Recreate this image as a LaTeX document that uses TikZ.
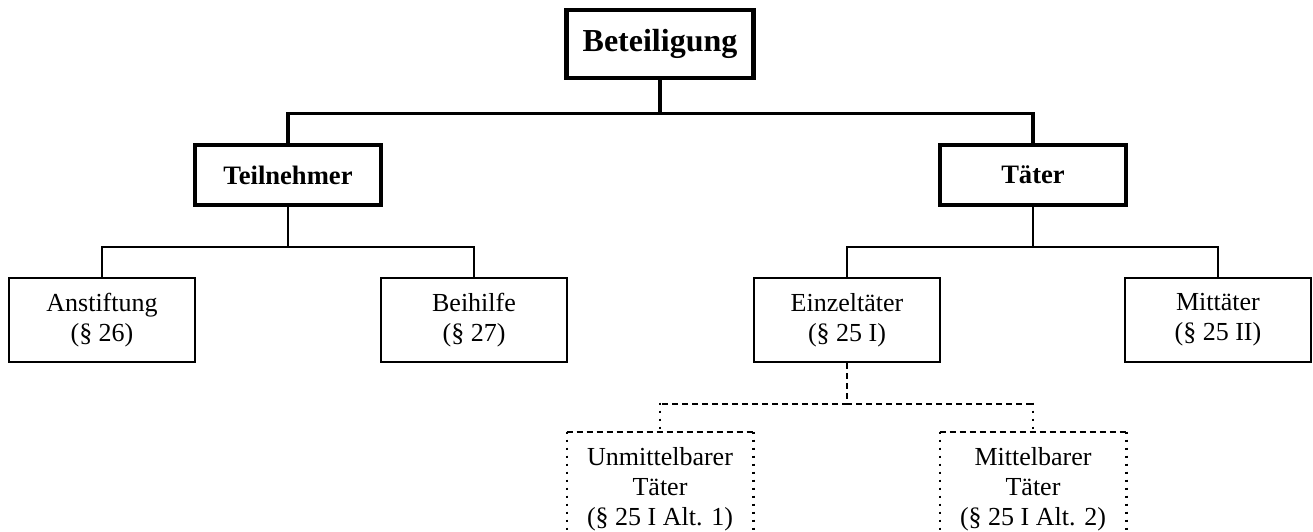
\documentclass[tikz,border=0pt]{standalone}
\usepackage{fontspec}
\setmainfont{Liberation Serif}
\usetikzlibrary{positioning}

\begin{document}
\begin{tikzpicture}[x=0.5pt,y=-0.5pt,
 top/.style={draw,line width=2.2pt,minimum width=93.5pt,minimum height=34pt,
 font=\fontsize{16}{19}\selectfont\bfseries},
 mid/.style={draw,line width=1.6pt,minimum width=93pt,minimum height=30pt,
 font=\fontsize{13.3}{15}\selectfont\bfseries},
 leaf/.style={draw,line width=1.1pt,minimum width=93pt,minimum height=42pt,align=center,
 font=\fontsize{13}{15}\selectfont},
 sub/.style={minimum width=93pt,minimum height=57pt,align=center,
 font=\fontsize{13}{15}\selectfont},
 conn/.style={line width=1.6pt},
 thin/.style={line width=1.1pt}]
\useasboundingbox (0,0) rectangle (1313,531);
\clip (0,0) rectangle (1313,531);
\node[top] (beteiligung) at (660,44) {Beteiligung};
\node[mid] (teilnehmer) at (288,175) {Teilnehmer};
\node[mid] (taeter) at (1033,175) {Täter};
\node[leaf] (anstiftung) at (102,320) {Anstiftung\\(§ 26)};
\node[leaf] (beihilfe) at (474,320) {Beihilfe\\(§ 27)};
\node[leaf] (einzel) at (847,320) {Einzeltäter\\(§ 25 I)};
\node[leaf] (mit) at (1218,320) {Mittäter\\(§ 25 II)};
\node[sub] (unmittelbar) at (660,489) {Unmittelbarer\\Täter\\(§ 25 I Alt. 1)};
\node[sub] (mittelbar) at (1033,489) {Mittelbarer\\Täter\\(§ 25 I Alt. 2)};
% dashed top, dotted sides
\foreach \n in {unmittelbar,mittelbar}{
  \draw[thin,dash pattern=on 3pt off 2pt] (\n.north west) -- (\n.north east);
  \draw[thin,dash pattern=on 1pt off 3pt] (\n.north west) -- (\n.south west);
  \draw[thin,dash pattern=on 1pt off 3pt] (\n.north east) -- (\n.south east);
}
\foreach \b in {teilnehmer,taeter}
  \draw[conn] (beteiligung.south) -- ++(0,33) -| (\b.north);
\foreach \a/\b in {teilnehmer/anstiftung,teilnehmer/beihilfe,taeter/einzel,taeter/mit}
  \draw[thin] (\a.south) -- ++(0,40) -| (\b.north);
\foreach \b in {unmittelbar,mittelbar}{
  \draw[thin,dash pattern=on 3pt off 2pt] (einzel.south) -- ++(0,41) -| ([yshift=14.5pt]\b.north);
  \draw[thin,dash pattern=on 1pt off 3pt] ([yshift=14.5pt]\b.north) -- (\b.north);
}
\end{tikzpicture}
\end{document}
